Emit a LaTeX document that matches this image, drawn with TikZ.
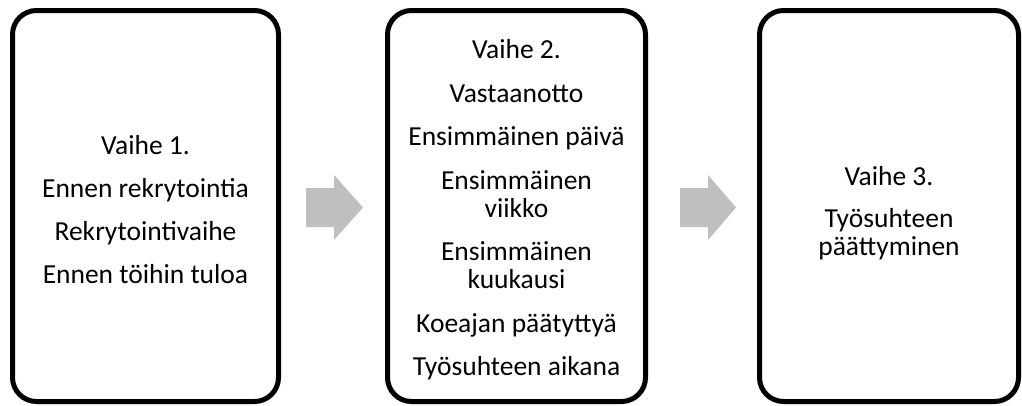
\documentclass[tikz,border=0pt]{standalone}
\usepackage{fontspec}
\setmainfont{Carlito}
\begin{document}
\begin{tikzpicture}[x=1pt,y=1pt,
  phasebox/.style={draw=black, line width=5pt, rounded corners=24pt, fill=white},
  phasetext/.style={align=center, inner sep=0pt, font=\fontsize{27.5}{28}\selectfont, text=black},
  grayarrow/.style={fill=arrowgray, draw=none}]
\definecolor{arrowgray}{HTML}{BFBFBF}
\useasboundingbox (0,0) rectangle (1022,-405);
\draw[phasebox] (12.5,-10.5) rectangle (278.5,-401.5);
\node[minimum width=266pt, minimum height=391pt, inner sep=0pt] (box1) at (145.5,-206) {};
\draw[phasebox] (387.5,-10.5) rectangle (645.5,-401.5);
\node[minimum width=258pt, minimum height=391pt, inner sep=0pt] (box2) at (516.5,-206) {};
\draw[phasebox] (759.5,-10.5) rectangle (1018.5,-401.5);
\node[minimum width=259pt, minimum height=391pt, inner sep=0pt] (box3) at (889,-206) {};
\node[phasetext] (t1) at ([yshift=-4pt]box1.center) {Vaihe 1.\\[15pt] Ennen rekrytointia\\[15pt] Rekrytointivaihe\\[15pt] Ennen töihin tuloa};
\node[phasetext] (t2) at ([yshift=-4pt]box2.center) {Vaihe 2.\\[15.5pt] Vastaanotto\\[15.5pt] Ensimmäinen päivä\\[15.5pt] Ensimmäinen\\ viikko\\[15.5pt] Ensimmäinen\\ kuukausi\\[15.5pt] Koeajan päätyttyä\\[15.5pt] Työsuhteen aikana};
\node[phasetext] (t3) at ([yshift=-7pt]box3.center) {Vaihe 3.\\[14pt] Työsuhteen\\ päättyminen};
\fill[grayarrow] (306,-188) -- (334,-188) -- (334,-175) -- (363,-207.5) -- (334,-240) -- (334,-227) -- (306,-227) -- cycle;
\fill[grayarrow] (680,-188) -- (708,-188) -- (708,-175) -- (736,-207.5) -- (708,-240) -- (708,-227) -- (680,-227) -- cycle;
\end{tikzpicture}
\end{document}
